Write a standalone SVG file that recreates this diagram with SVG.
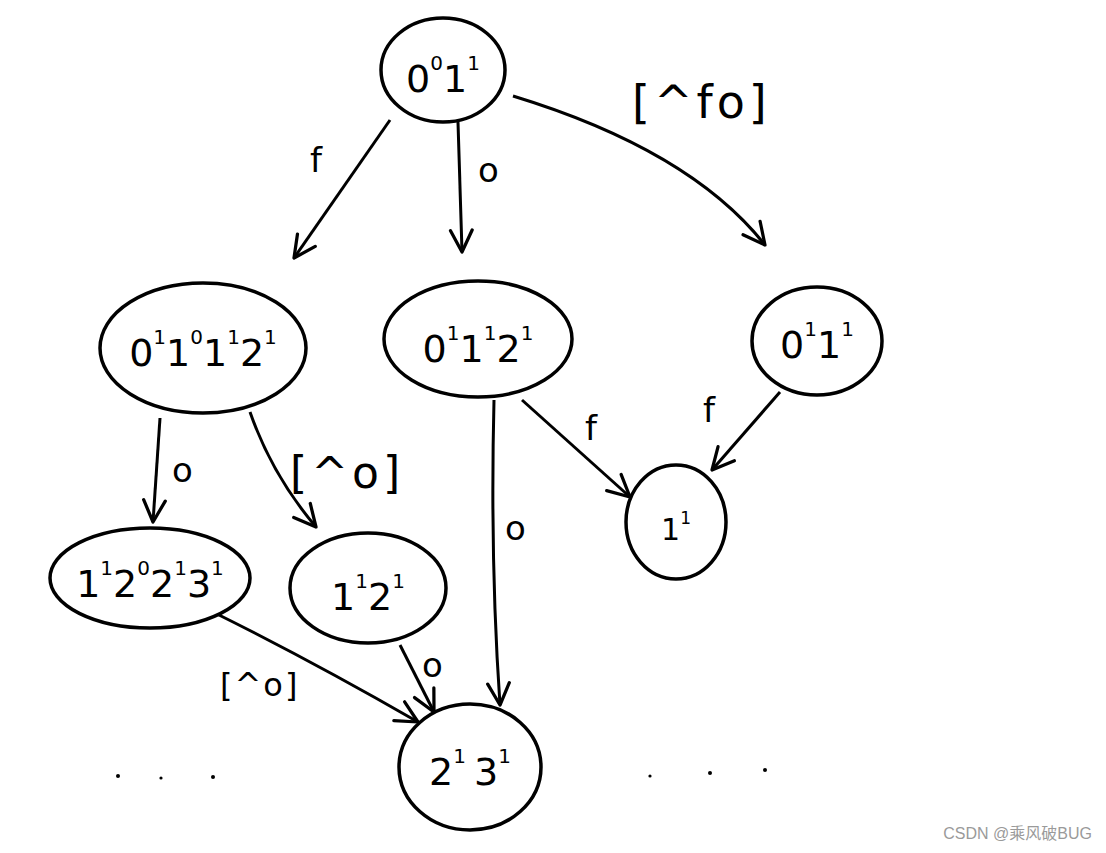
<svg xmlns="http://www.w3.org/2000/svg" width="1106" height="853" viewBox="0 0 1106 853">
<defs>
<marker id="ah" viewBox="0 0 24 24" refX="22" refY="12" markerWidth="26" markerHeight="26" markerUnits="userSpaceOnUse" orient="auto">
<path d="M2,2 L22,12 L2,22" fill="none" stroke="#000" stroke-width="3" stroke-linecap="round" stroke-linejoin="round"/>
</marker>
</defs>
<style>
.n{fill:#fff;stroke:#000;stroke-width:3.5}
.e{fill:none;stroke:#000;stroke-width:3;marker-end:url(#ah)}
.t{font-family:"DejaVu Sans","Liberation Sans",sans-serif;font-size:38px;fill:#000;text-anchor:middle}
.s{font-size:20px}
.l{font-family:"DejaVu Sans","Liberation Sans",sans-serif;font-size:34px;fill:#000}
.b{font-family:"DejaVu Sans","Liberation Sans",sans-serif;fill:#000;letter-spacing:4px}
.d{fill:#000}
.w{font-family:"Liberation Sans","Noto Sans CJK SC",sans-serif;font-size:16px;fill:#9a9a9a}
</style>
<rect width="1106" height="853" fill="#fff"/>
<g id="edges">
<path class="e" d="M390,120 L294,258"/>
<path class="e" d="M458,122 L462,252"/>
<path class="e" d="M513,96 Q690,150 765,245"/>
<path class="e" d="M160,418 L153,522"/>
<path class="e" d="M250,412 Q272,475 316,527"/>
<path class="e" d="M494,400 Q490,560 500,705"/>
<path class="e" d="M522,400 L630,497"/>
<path class="e" d="M780,392 L712,470"/>
<path class="e" d="M213,612 Q310,660 418,722"/>
<path class="e" d="M400,645 L434,712"/>
</g>
<g id="edge-labels">
<text class="l" x="310" y="172">f</text>
<text class="l" x="478" y="182">o</text>
<text class="b" x="632" y="118" style="font-size:46px">[^fo]</text>
<text class="l" x="172" y="482">o</text>
<text class="b" x="290" y="488" style="font-size:44px">[^o]</text>
<text class="l" x="505" y="540">o</text>
<text class="l" x="585" y="440">f</text>
<text class="l" x="703" y="422">f</text>
<text class="b" x="220" y="696" style="font-size:32px;letter-spacing:2px">[^o]</text>
<text class="l" x="422" y="677">o</text>
</g>
<g id="n-root">
<ellipse class="n" cx="443" cy="70" rx="62" ry="52"/>
<text class="t" x="443" y="92">0<tspan class="s" dy="-22">0</tspan><tspan dy="22">1</tspan><tspan class="s" dy="-22">1</tspan></text>
</g>
<g id="n-a">
<ellipse class="n" cx="203" cy="348" rx="103" ry="65"/>
<text class="t" x="203" y="366">0<tspan class="s" dy="-22">1</tspan><tspan dy="22">1</tspan><tspan class="s" dy="-22">0</tspan><tspan dy="22">1</tspan><tspan class="s" dy="-22">1</tspan><tspan dy="22">2</tspan><tspan class="s" dy="-22">1</tspan></text>
</g>
<g id="n-b">
<ellipse class="n" cx="478" cy="339" rx="94" ry="58"/>
<text class="t" x="478" y="362">0<tspan class="s" dy="-22">1</tspan><tspan dy="22">1</tspan><tspan class="s" dy="-22">1</tspan><tspan dy="22">2</tspan><tspan class="s" dy="-22">1</tspan></text>
</g>
<g id="n-c">
<ellipse class="n" cx="817" cy="341" rx="65" ry="54"/>
<text class="t" x="817" y="358">0<tspan class="s" dy="-22">1</tspan><tspan dy="22">1</tspan><tspan class="s" dy="-22">1</tspan></text>
</g>
<g id="n-d">
<ellipse class="n" cx="150" cy="578" rx="100" ry="50"/>
<text class="t" x="150" y="597">1<tspan class="s" dy="-22">1</tspan><tspan dy="22">2</tspan><tspan class="s" dy="-22">0</tspan><tspan dy="22">2</tspan><tspan class="s" dy="-22">1</tspan><tspan dy="22">3</tspan><tspan class="s" dy="-22">1</tspan></text>
</g>
<g id="n-e">
<ellipse class="n" cx="368" cy="588" rx="78" ry="55"/>
<text class="t" x="368" y="610">1<tspan class="s" dy="-22">1</tspan><tspan dy="22">2</tspan><tspan class="s" dy="-22">1</tspan></text>
</g>
<g id="n-f">
<ellipse class="n" cx="676" cy="522" rx="50" ry="57"/>
<text class="t" x="676" y="540" style="font-size:30px">1<tspan class="s" dy="-16" style="font-size:17px">1</tspan></text>
</g>
<g id="n-g">
<ellipse class="n" cx="470" cy="767" rx="71" ry="63"/>
<text class="t" x="470" y="785">2<tspan class="s" dy="-22">1</tspan><tspan dy="22" dx="8">3</tspan><tspan class="s" dy="-22">1</tspan></text>
</g>
<g id="dots">
<circle class="d" cx="118" cy="776" r="2"/>
<circle class="d" cx="161" cy="778" r="1.6"/>
<circle class="d" cx="213" cy="777" r="2"/>
<circle class="d" cx="650" cy="776" r="1.6"/>
<circle class="d" cx="710" cy="773" r="2"/>
<circle class="d" cx="765" cy="770" r="2"/>
</g>
<text class="w" x="1092" y="839" text-anchor="end">CSDN @乘风破BUG</text>
</svg>
